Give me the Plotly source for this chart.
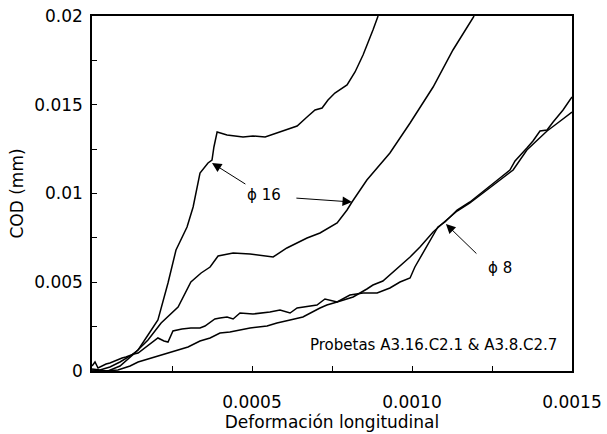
import numpy as np
import plotly.graph_objects as go

# Deformación longitudinal (x 1e-3) and COD (mm x 1e-3) for each curve
phi16_a_x = [0, 0.025, 0.056, 0.0875, 0.119, 0.144, 0.175, 0.206, 0.2375, 0.2625, 0.297, 0.316,
             0.3375, 0.3625, 0.375, 0.381, 0.391, 0.422, 0.472, 0.503, 0.541, 0.578, 0.619, 0.641,
             0.672, 0.697, 0.719, 0.7375, 0.759, 0.797, 0.822, 0.847, 0.878, 0.894]
phi16_a_y = [0.113, 0.056, 0.225, 0.507, 0.845, 1.183, 2.028, 2.873, 4.958, 6.817, 8.113, 9.239,
             11.155, 11.718, 11.887, 12.620, 13.465, 13.296, 13.183, 13.239, 13.183, 13.408, 13.690, 13.803,
             14.310, 14.704, 14.817, 15.268, 15.662, 16.113, 16.845, 17.803, 19.211, 20.000]

phi16_b_x = [0, 0.050, 0.0875, 0.134, 0.175, 0.216, 0.269, 0.309, 0.341, 0.369, 0.394, 0.441,
             0.494, 0.525, 0.566, 0.609, 0.672, 0.7125, 0.766, 0.797, 0.8125, 0.859, 0.878, 0.931,
             0.994, 1.025, 1.066, 1.128, 1.194]
phi16_b_y = [0.056, 0, 0.282, 1.014, 1.746, 2.704, 3.606, 5.014, 5.521, 5.859, 6.479, 6.648,
             6.592, 6.535, 6.423, 6.930, 7.493, 7.775, 8.338, 9.070, 9.521, 10.761, 11.155, 12.282,
             13.972, 14.873, 16.000, 18.085, 20.000]

phi8_a_x = [0, 0.0094, 0.0188, 0.031, 0.044, 0.056, 0.069, 0.081, 0.094, 0.106, 0.119, 0.131,
            0.144, 0.166, 0.1875, 0.206, 0.225, 0.2375, 0.253, 0.281, 0.309, 0.3375, 0.353, 0.384,
            0.400, 0.422, 0.441, 0.4625, 0.503, 0.556, 0.5875, 0.619, 0.641, 0.681, 0.703, 0.728,
            0.766, 0.806, 0.847, 0.891, 0.931, 0.9625, 0.994, 1.009, 1.056, 1.081, 1.103, 1.141,
            1.181, 1.234, 1.275, 1.306, 1.322, 1.359, 1.378, 1.400, 1.422, 1.441, 1.472, 1.500]
phi8_a_y = [0.282, 0.507, 0.169, 0.282, 0.394, 0.451, 0.563, 0.620, 0.732, 0.789, 0.901, 0.958,
            1.014, 1.296, 1.577, 1.859, 1.690, 1.634, 2.254, 2.366, 2.423, 2.423, 2.535, 2.930,
            2.986, 3.042, 2.930, 3.268, 3.211, 3.324, 3.437, 3.268, 3.549, 3.662, 3.718, 4.056,
            3.887, 4.282, 4.394, 4.394, 4.676, 5.014, 5.239, 5.859, 7.380, 8.113, 8.394, 9.070,
            9.521, 10.254, 10.873, 11.324, 11.831, 12.563, 12.958, 13.521, 13.577, 14.028, 14.704, 15.437]

phi8_b_x = [0, 0.041, 0.081, 0.119, 0.144, 0.197, 0.247, 0.300, 0.3375, 0.369, 0.400, 0.431,
            0.4625, 0.494, 0.547, 0.578, 0.619, 0.659, 0.7125, 0.734, 0.766, 0.816, 0.859, 0.878,
            0.909, 0.941, 0.9625, 0.994, 1.025, 1.066, 1.097, 1.141, 1.181, 1.234, 1.275, 1.316,
            1.359, 1.400, 1.422, 1.447, 1.472, 1.500]
phi8_b_y = [0, 0, 0.056, 0.282, 0.507, 0.789, 1.070, 1.352, 1.690, 1.859, 2.141, 2.197,
            2.310, 2.423, 2.535, 2.704, 2.873, 3.042, 3.549, 3.718, 3.887, 4.169, 4.620, 4.845,
            5.070, 5.577, 5.915, 6.423, 6.986, 7.831, 8.338, 9.014, 9.465, 10.197, 10.761, 11.324,
            12.451, 13.183, 13.521, 13.859, 14.197, 14.592]

series = [(phi16_a_x, phi16_a_y), (phi16_b_x, phi16_b_y),
          (phi8_a_x, phi8_a_y), (phi8_b_x, phi8_b_y)]

x_tick_vals = [0.0005, 0.0010, 0.0015]
x_tick_text = ["0.0005", "0.0010", "0.0015"]
y_tick_vals = [0, 0.005, 0.01, 0.015, 0.02]
y_tick_text = ["0", "0.005", "0.01", "0.015", "0.02"]

FONT = "DejaVu Sans, sans-serif"

fig = go.Figure()
for sx, sy in series:
    fig.add_trace(go.Scatter(
        x=np.array(sx) * 1e-3, y=np.array(sy) * 1e-3, mode="lines",
        line=dict(color="black", width=1.5), showlegend=False, hoverinfo="skip"))

axis_common = dict(
    showline=True, linecolor="black", linewidth=1.5, mirror=True, automargin=False,
    showgrid=False, zeroline=False, ticks="inside", ticklen=5,
    tickcolor="black", tickwidth=1, tickfont=dict(family=FONT, size=17, color="black"),
)

fig.update_xaxes(
    range=[0, 0.0015], tickvals=x_tick_vals, ticktext=x_tick_text,
    minor=dict(dtick=0.00025, ticks="inside", ticklen=5, tickcolor="black", tickwidth=1),
    ticklabelstandoff=15,
    title=dict(text="Deformación longitudinal", font=dict(family=FONT, size=17, color="black"),
               standoff=5),
    **axis_common)
fig.update_yaxes(
    range=[0, 0.02], tickvals=y_tick_vals, ticktext=y_tick_text,
    minor=dict(dtick=0.0025, ticks="inside", ticklen=5, tickcolor="black", tickwidth=1),
    ticklabelstandoff=4,
    title=dict(text="COD (mm)", font=dict(family=FONT, size=17, color="black"), standoff=6),
    **axis_common)

arrow_style = dict(showarrow=True, arrowhead=2, arrowsize=1.9, arrowwidth=1,
                   arrowcolor="black", axref="x", ayref="y", xref="x", yref="y", text="")
# ϕ 16 label with arrows to both ϕ16 curves
fig.add_annotation(x=0.000375, y=0.011718, ax=0.000484, ay=0.010479, **arrow_style)
fig.add_annotation(x=0.0008125, y=0.009521, ax=0.000634, ay=0.009746, **arrow_style)
fig.add_annotation(x=0.0005375, y=0.009915, text="ϕ 16", showarrow=False,
                   font=dict(family=FONT, size=15, color="black"))
# ϕ 8 label
fig.add_annotation(x=0.001106, y=0.008282, ax=0.001206, ay=0.006535, **arrow_style)
fig.add_annotation(x=0.001275, y=0.005803, text="ϕ 8", showarrow=False,
                   font=dict(family=FONT, size=15, color="black"))

fig.add_annotation(x=0.000675, y=0.00146, xanchor="left", showarrow=False,
                   text="Probetas A3.16.C2.1 & A3.8.C2.7",
                   font=dict(family=FONT, size=15, color="black"))

fig.update_layout(
    width=607, height=434,
    margin=dict(l=92, r=35, t=16, b=63),
    plot_bgcolor="white", paper_bgcolor="white",
)

fig.write_html("out.html")
